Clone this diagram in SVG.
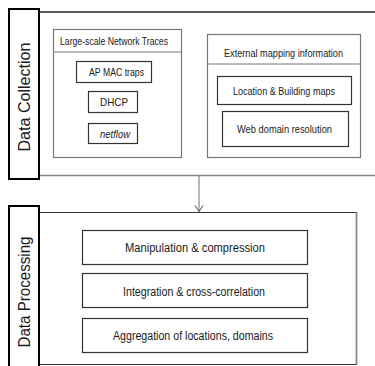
<svg xmlns="http://www.w3.org/2000/svg" width="375" height="366" viewBox="0 0 375 366">
<defs>
<style>
.t{font-family:"Liberation Sans",Arial,sans-serif;fill:#1a1a1a;text-anchor:middle;dominant-baseline:central}
.s{font-size:10.5px}
.m{font-size:12px}
.big{font-size:16px}
.box{fill:#fff;stroke:#333;stroke-width:1.2}
.gbox{fill:#fff;stroke:#777;stroke-width:1.2}
.tab{fill:#fff;stroke:#000;stroke-width:2}
</style>
<marker id="arr" markerWidth="10" markerHeight="10" refX="8" refY="5" orient="auto" markerUnits="userSpaceOnUse">
<path d="M2,1 L8,5 L2,9" fill="none" stroke="#444" stroke-width="1"/>
</marker>
</defs>

<g id="collection">
<line x1="39" y1="12" x2="375" y2="12" stroke="#222" stroke-width="1.3"/>
<line x1="39" y1="175.5" x2="375" y2="175.5" stroke="#888" stroke-width="1.3"/>
<rect class="tab" x="9" y="9" width="30" height="170"/>
<text class="t big" transform="translate(24,97) rotate(-90)" textLength="109" lengthAdjust="spacingAndGlyphs">Data Collection</text>
</g>

<g id="traces">
<rect class="gbox" x="53.5" y="29.5" width="128" height="128"/>
<line x1="53.5" y1="52" x2="181.5" y2="52" stroke="#777" stroke-width="1.2"/>
<text class="t s" x="114" y="41" textLength="108" lengthAdjust="spacingAndGlyphs">Large-scale Network Traces</text>
</g>
<g id="apmac">
<rect class="box" x="76.5" y="61.5" width="75" height="21"/>
<text class="t s" x="116.5" y="72" textLength="55" lengthAdjust="spacingAndGlyphs">AP MAC traps</text>
</g>
<g id="dhcp">
<rect class="box" x="88.5" y="91.5" width="49" height="21"/>
<text class="t s" x="114" y="102" textLength="28" lengthAdjust="spacingAndGlyphs">DHCP</text>
</g>
<g id="netflow">
<rect class="box" x="88.5" y="123.5" width="49" height="20"/>
<text class="t s" x="115" y="133.5" font-style="italic" textLength="30" lengthAdjust="spacingAndGlyphs">netflow</text>
</g>

<g id="external">
<rect class="gbox" x="207.5" y="34.5" width="153" height="123"/>
<line x1="207.5" y1="64" x2="360.5" y2="64" stroke="#777" stroke-width="1.2"/>
<text class="t s" x="283.5" y="53" textLength="119" lengthAdjust="spacingAndGlyphs">External mapping information</text>
</g>
<g id="location">
<rect class="box" x="217.5" y="76.5" width="134" height="28"/>
<text class="t s" x="284" y="91" textLength="102" lengthAdjust="spacingAndGlyphs">Location &amp; Building maps</text>
</g>
<g id="webdomain">
<rect class="box" x="222.5" y="111.5" width="126" height="35"/>
<text class="t s" x="284.5" y="129" textLength="95" lengthAdjust="spacingAndGlyphs">Web domain resolution</text>
</g>

<g id="processing">
<path d="M39,212.5 H356.5 V364.5 H39" fill="#fff" stroke="#333" stroke-width="1.2"/>
<line x1="356.5" y1="212.5" x2="356.5" y2="364.5" stroke="#888" stroke-width="1.5"/>
<rect class="tab" x="9" y="206" width="30" height="165"/>
<text class="t big" transform="translate(24,292) rotate(-90)" textLength="111" lengthAdjust="spacingAndGlyphs">Data Processing</text>
</g>
<g id="manipulation">
<rect class="box" x="82.5" y="230.5" width="225" height="34"/>
<text class="t m" x="195" y="248" textLength="140" lengthAdjust="spacingAndGlyphs">Manipulation &amp; compression</text>
</g>
<g id="integration">
<rect class="box" x="82.5" y="273.5" width="225" height="34"/>
<text class="t m" x="194" y="292" textLength="142" lengthAdjust="spacingAndGlyphs">Integration &amp; cross-correlation</text>
</g>
<g id="aggregation">
<rect class="box" x="82.5" y="318.5" width="225" height="34"/>
<text class="t m" x="193" y="336" textLength="160" lengthAdjust="spacingAndGlyphs">Aggregation of locations, domains</text>
</g>

<g id="connectors">
<line x1="199" y1="176" x2="199" y2="211.5" stroke="#888" stroke-width="1.2" marker-end="url(#arr)"/>
</g>
</svg>
